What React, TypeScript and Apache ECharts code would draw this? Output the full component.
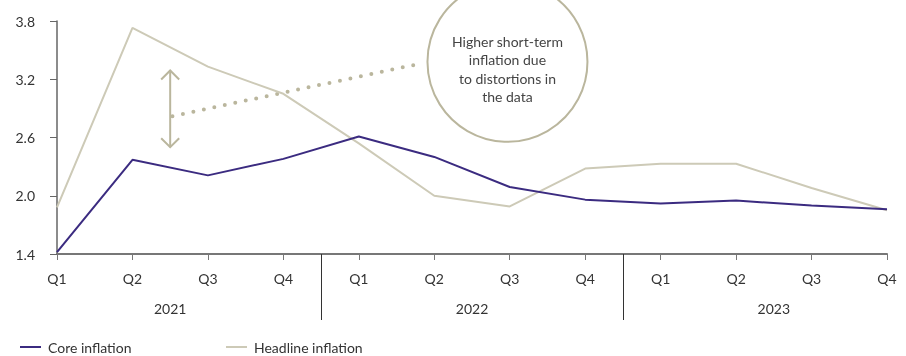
import React, { useEffect, useRef } from "react";
import * as echarts from "echarts";

const quarters = ["Q1", "Q2", "Q3", "Q4", "Q1", "Q2", "Q3", "Q4", "Q1", "Q2", "Q3", "Q4"];
const years = ["2021", "2022", "2023"];
const coreInflation = [1.42, 2.37, 2.21, 2.38, 2.61, 2.4, 2.09, 1.96, 1.92, 1.95, 1.9, 1.86];
const headlineInflation = [1.88, 3.73, 3.33, 3.05, 2.54, 2.0, 1.89, 2.28, 2.33, 2.33, 2.08, 1.85];
const yTicks = [1.4, 2.0, 2.6, 3.2, 3.8];
const yearCenters = [1.5, 5.5, 9.5];
const yearSeparators = [3.5, 7.5];
const annotationText = "Higher short-term\ninflation due\nto distortions in\nthe data";

const FONT = "Lato";
const CORE = "#3b2b80";
const HEAD = "#cdcab7";
const ANNOT = "#bab69d";

export default function App() {
  const ref = useRef<HTMLDivElement>(null);
  useEffect(() => {
    if (!ref.current) return;
    const chart = echarts.init(ref.current, undefined, { renderer: "svg" });
    const legendBase = {
      top: 340,
      padding: 0,
      itemWidth: 21,
      itemHeight: 2,
      icon: "rect",
      textStyle: { fontFamily: FONT, fontSize: 14, color: "#333", padding: [0, 0, 0, 2] },
    };
    chart.setOption({
      animation: false,
      textStyle: { fontFamily: FONT },
      grid: { left: 57, right: 19, top: 21, bottom: 102, containLabel: false },
      legend: [
        { ...legendBase, left: 20, data: ["Core inflation"] },
        { ...legendBase, left: 226, data: ["Headline inflation"] },
      ],
      xAxis: [
        {
          type: "category",
          data: quarters,
          boundaryGap: false,
          axisLine: { lineStyle: { color: "#777", width: 2 } },
          axisTick: { show: true, length: 6, lineStyle: { color: "#777" } },
          axisLabel: { fontFamily: FONT, fontSize: 14, color: "#333", margin: 17 },
        },
        {
          type: "value",
          min: 0,
          max: quarters.length - 1,
          position: "bottom",
          axisLine: { show: false },
          splitLine: { show: false },
          axisTick: {
            show: true,
            customValues: yearSeparators,
            length: 66,
            lineStyle: { color: "#333", width: 1 },
          },
          axisLabel: {
            customValues: yearCenters,
            formatter: (v: number) => years[yearCenters.indexOf(v)] ?? "",
            fontFamily: FONT,
            fontSize: 14,
            color: "#333",
            margin: 47,
          },
        },
      ],
      yAxis: {
        type: "value",
        min: 1.4,
        max: 3.8,
        axisLine: { show: true, lineStyle: { color: "#666", width: 1.5 } },
        axisTick: { show: true, length: 7, customValues: yTicks, lineStyle: { color: "#666" } },
        splitLine: { show: false },
        axisLabel: {
          customValues: yTicks,
          formatter: (v: number) => v.toFixed(1),
          fontFamily: FONT,
          fontSize: 14,
          color: "#333",
          margin: 22,
        },
      },
      series: [
        {
          name: "Headline inflation",
          type: "line",
          data: headlineInflation,
          symbol: "none",
          lineStyle: { color: HEAD, width: 2 },
          itemStyle: { color: HEAD },
        },
        {
          name: "Core inflation",
          type: "line",
          data: coreInflation,
          symbol: "none",
          lineStyle: { color: CORE, width: 2 },
          itemStyle: { color: CORE },
        },
      ],
    });

    const px = (x: number, y: number) => chart.convertToPixel({ xAxisIndex: 1, yAxisIndex: 0 }, [x, y]) as number[];
    const aTop = px(1.5, 3.29);
    const aBot = px(1.5, 2.5);
    const dStart = px(1.53, 2.82);
    const dEnd = px(4.81, 3.36);
    const cc = px(5.97, 3.38);
    const h = 9;
    chart.setOption({
      graphic: [
        {
          type: "line",
          shape: { x1: aTop[0], y1: aTop[1], x2: aBot[0], y2: aBot[1] },
          style: { stroke: ANNOT, lineWidth: 2 },
        },
        {
          type: "polyline",
          shape: { points: [[aTop[0] - h, aTop[1] + h], [aTop[0], aTop[1]], [aTop[0] + h, aTop[1] + h]] },
          style: { stroke: ANNOT, lineWidth: 2, fill: "none" },
        },
        {
          type: "polyline",
          shape: { points: [[aBot[0] - h, aBot[1] - h], [aBot[0], aBot[1]], [aBot[0] + h, aBot[1] - h]] },
          style: { stroke: ANNOT, lineWidth: 2, fill: "none" },
        },
        {
          type: "line",
          shape: { x1: dStart[0], y1: dStart[1], x2: dEnd[0], y2: dEnd[1] },
          style: { stroke: ANNOT, lineWidth: 4, lineCap: "round", lineDash: [0, 10.7] },
        },
        {
          type: "circle",
          shape: { cx: cc[0], cy: cc[1], r: 80 },
          style: { stroke: ANNOT, lineWidth: 2, fill: "#fff" },
        },
        {
          type: "text",
          x: cc[0],
          y: cc[1] + 7,
          style: {
            text: annotationText,
            fontFamily: FONT,
            fontSize: 14,
            lineHeight: 18.5,
            fill: "#444",
            align: "center",
            verticalAlign: "middle",
          },
        },
      ],
    });
    return () => chart.dispose();
  }, []);
  return <div ref={ref} style={{ position: "fixed", left: 0, top: 0, width: 906, height: 356 }} />;
}
